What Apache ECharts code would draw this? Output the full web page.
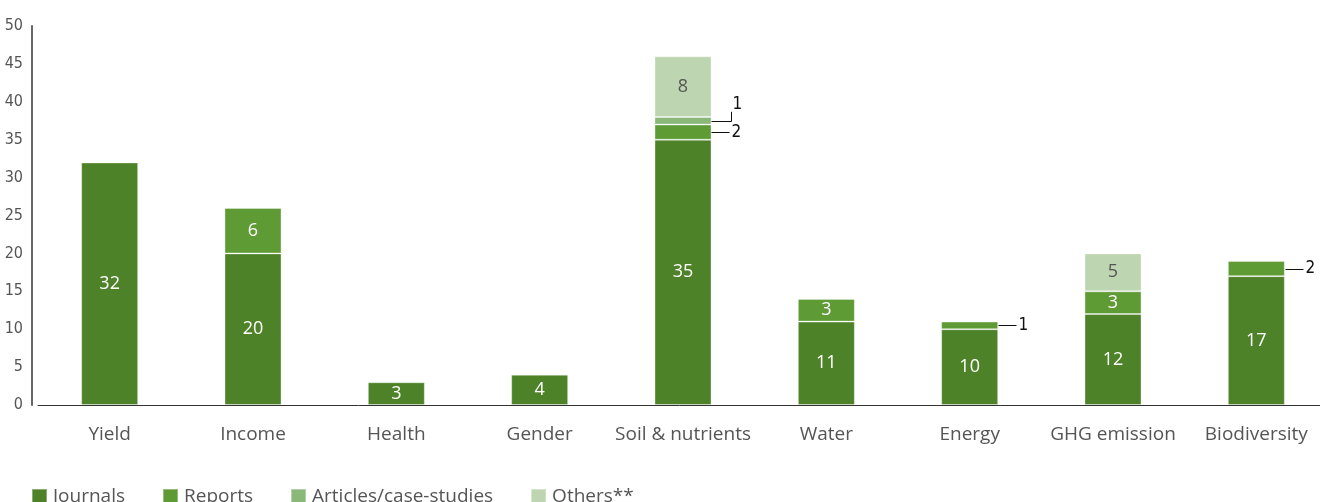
<!DOCTYPE html>
<html><head><meta charset="utf-8">
<script src="https://cdn.jsdelivr.net/npm/echarts@6/dist/echarts.min.js"></script>
<style>html,body{margin:0;padding:0;background:#fff}#c{width:1320px;height:502px}</style>
</head><body><div id="c"></div>
<script>
const categories = ['Yield','Income','Health','Gender','Soil & nutrients','Water','Energy','GHG emission','Biodiversity'];
const journals = [32,20,3,4,35,11,10,12,17];
const reports = [null,6,null,null,2,3,1,3,2];
const articles = [null,null,null,null,1,null,null,null,null];
const others = [null,null,null,null,8,null,null,5,null];
// callouts for small segments: [categoryIndex, segment middle value, label value, text, bent]
const callouts = [
  [4, 37.5, 39.6, '1', 1],
  [4, 36, 36, '2', 0],
  [6, 10.5, 10.5, '1', 0],
  [8, 18, 18, '2', 0]
];
const colors = ['#4e8229','#5e9b35','#8ab879','#bdd5b1'];
const hideSmall = (p) => (p.value == null || p.value < 3) ? '' : String(p.value);
const labelFont = 'Open Sans';
const condFont = 'DejaVu Sans Condensed';
function mk(name, data, color, lblColor) {
  return {
    name, type: 'bar', stack: 'a', data, barWidth: 57,
    itemStyle: { color, borderColor: 'rgba(255,255,255,0.35)', borderWidth: 1 },
    label: { show: true, position: 'inside', color: lblColor, fontSize: 18, fontFamily: labelFont, formatter: hideSmall },
    emphasis: { disabled: true }
  };
}
const chart = echarts.init(document.getElementById('c'));
chart.setOption({
  animation: false,
  grid: { left: 38, width: 1290, top: 26, bottom: 97, outerBoundsMode: 'none', containLabel: false },
  legend: {
    left: 31, top: 487, padding: 0, itemWidth: 15, itemHeight: 15, itemGap: 37, icon: 'rect',
    textStyle: { fontSize: 19, color: '#555', fontFamily: labelFont, padding: [0,0,0,1] },
    data: ['Journals','Reports','Articles/case-studies','Others**']
  },
  xAxis: {
    type: 'category', data: categories,
    axisLine: { lineStyle: { color: '#333', width: 1 } },
    axisTick: { show: false },
    axisLabel: { fontSize: 19, color: '#555', fontFamily: labelFont, margin: 20, interval: 0 }
  },
  yAxis: {
    type: 'value', min: 0, max: 50, interval: 5, offset: 6,
    axisLine: { show: true, lineStyle: { color: '#666', width: 2 } },
    axisTick: { show: false },
    splitLine: { show: false },
    axisLabel: { fontSize: 16, color: '#555', fontFamily: condFont, margin: 9, padding: [0,0,5,0] }
  },
  series: [
    mk('Journals', journals, colors[0], '#fff'),
    mk('Reports', reports, colors[1], '#fff'),
    mk('Articles/case-studies', articles, colors[2], '#fff'),
    mk('Others**', others, colors[3], '#555'),
    {
      type: 'custom', data: callouts, silent: true, z: 5,
      renderItem(params, api) {
        const p = api.coord([api.value(0), api.value(1)]);
        const q = api.coord([api.value(0), api.value(2)]);
        const x0 = Math.round(p[0] + 28.5) + 0.5;
        const bent = api.value(4) === 1;
        const x1 = x0 + (bent ? 20 : 18);
        const y = Math.round(p[1]) + 0.5;
        const pts = bent ? [[x0, y], [x1, y], [x1, q[1] + 7]] : [[x0, y], [x1, y]];
        return {
          type: 'group',
          children: [
            { type: 'polyline', shape: { points: pts }, style: { stroke: '#111', lineWidth: 1, fill: null } },
            { type: 'text', style: { x: bent ? x1 + 1 : x1 + 2, y: q[1], text: callouts[params.dataIndex][3], fill: '#111', font: '17px "' + condFont + '"', verticalAlign: 'middle', align: 'left' } }
          ]
        };
      }
    }
  ]
});
</script></body></html>
